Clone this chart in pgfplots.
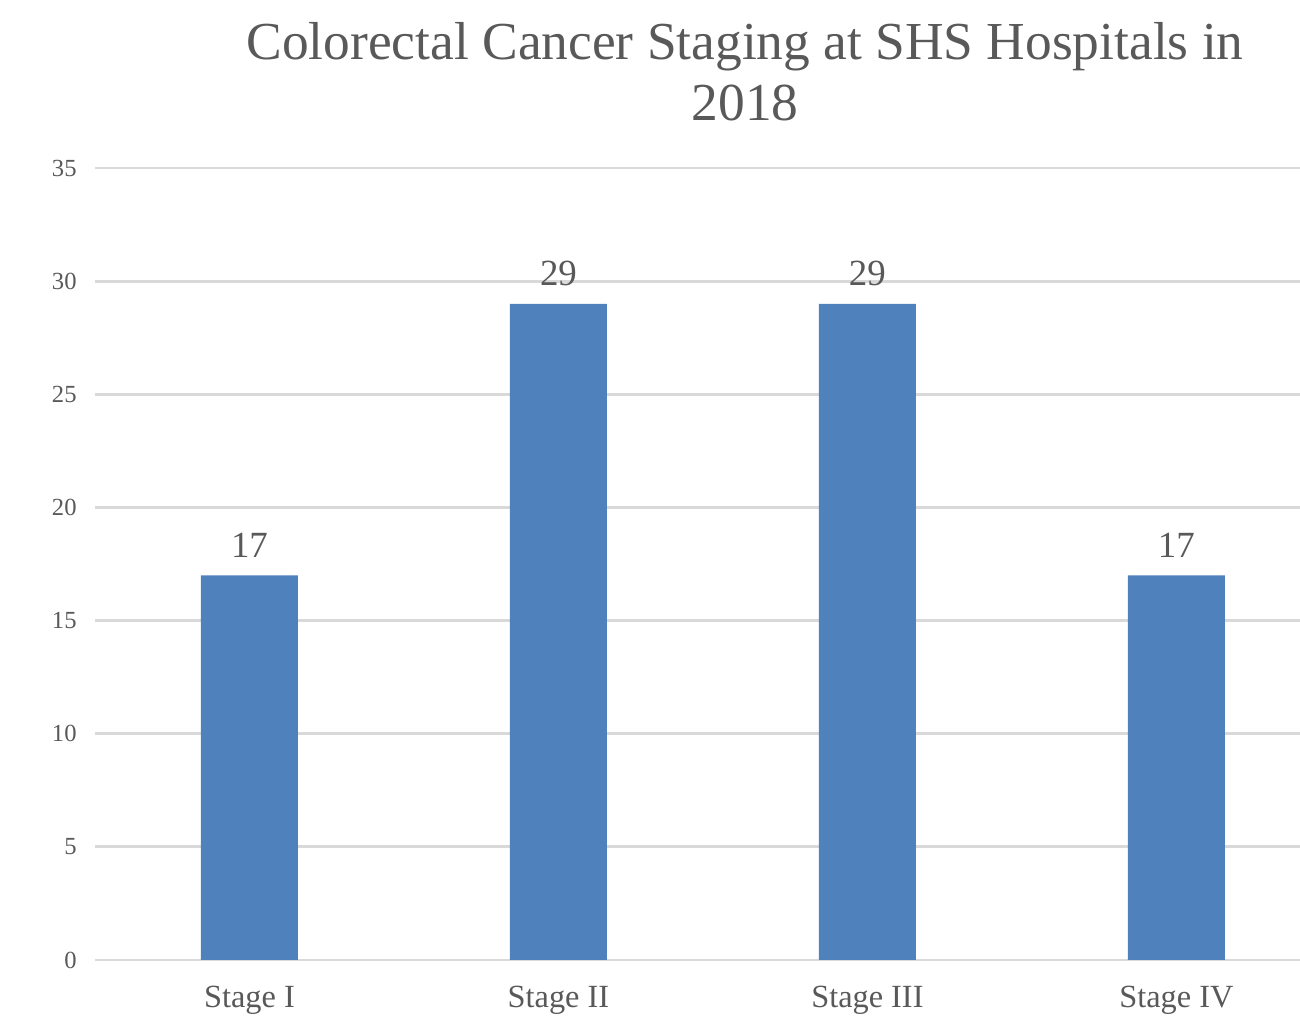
\documentclass[border=0pt]{standalone}
\usepackage{pgfplots}
\pgfplotsset{compat=1.18}
\usepackage{fontspec}
\setmainfont{Liberation Serif}
\definecolor{barblue}{HTML}{4F81BD}
\definecolor{txtgray}{HTML}{595959}
\definecolor{gridgray}{HTML}{D9D9D9}
\begin{document}
\begin{tikzpicture}[x=1cm,y=1cm]
\path[use as bounding box] (-0.95,-0.57) rectangle (12.05,9.60);
\begin{axis}[
  at={(0,0)}, anchor=south west,
  scale only axis, width=12.05cm, height=7.92cm,
  xmin=-0.5, xmax=3.4, ymin=0, ymax=35,
  ytick={0,5,...,35},
  xtick={0,1,2,3},
  xticklabels={Stage I,Stage II,Stage III,Stage IV},
  axis x line*=bottom, axis y line*=left,
  x axis line style={gridgray, line width=0.8pt},
  y axis line style={draw=none},
  ymajorgrids, grid style={gridgray, line width=0.8pt},
  major tick length=0pt,
  /pgf/number format/assume math mode=true,
  yticklabel style={font=\fontsize{7}{8}\selectfont, text=txtgray, xshift=-0.06cm},
  xticklabel style={font=\fontsize{9.2}{11}\selectfont, text=txtgray, yshift=-0.14cm},
  ybar, bar width=0.97cm,
  nodes near coords,
  nodes near coords style={font=\fontsize{10.5}{12}\selectfont, text=txtgray, yshift=0.05cm},
  clip=false,
]
\addplot[fill=barblue, draw=none] coordinates {(0,17) (1,29) (2,29) (3,17)};
\end{axis}
\node[anchor=north, align=center, text=txtgray, font=\fontsize{15.2}{17.2}\selectfont, inner sep=0pt] at (6.5,9.38) {Colorectal Cancer Staging at SHS Hospitals in\\2018};
\end{tikzpicture}
\end{document}
